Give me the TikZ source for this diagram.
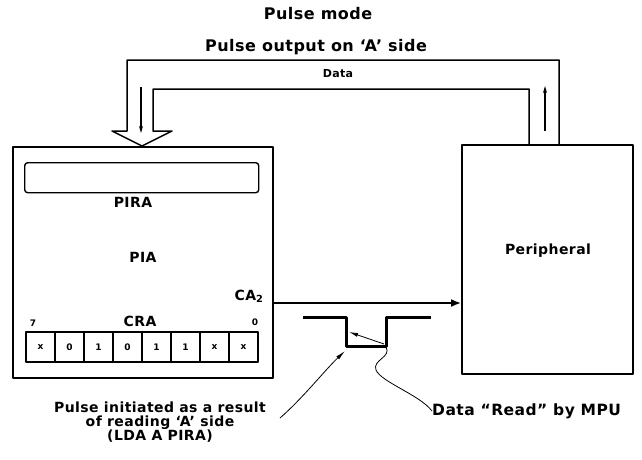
\documentclass[tikz,border=0pt]{standalone}
\usepackage{fontspec}
\setmainfont{DejaVu Sans}[LetterSpace=3]
\usetikzlibrary{arrows.meta}
\begin{document}
\begin{tikzpicture}[x=1pt,y=-1pt,line join=round,
  box/.style={draw,line width=1.7pt,inner sep=0pt,anchor=north west},
  ttl/.style={font=\bfseries\fontsize{16}{18}\selectfont,inner sep=0pt},
  lbl/.style={font=\bfseries\fontsize{14}{14}\selectfont,inner sep=0pt},
  sm/.style={font=\bfseries\fontsize{11}{12}\selectfont,inner sep=0pt},
  tiny/.style={font=\bfseries\fontsize{9}{10}\selectfont,inner sep=0pt},
  cell/.style={draw,line width=1.2pt,minimum width=29pt,minimum height=30pt,inner sep=0pt,font=\bfseries\fontsize{9}{10}\selectfont},
  bus/.style={line width=1.5pt},
  thinarrow/.style={line width=1.2pt,-{Stealth[length=7pt,width=4pt]}},
  lead/.style={line width=0.8pt}]
\useasboundingbox (0,0) rectangle (642,459);
% boxes
\node[box,minimum width=260pt,minimum height=231pt] (pia) at (12,146) {};
\node[box,minimum width=171pt,minimum height=229pt] (per) at (461,144) {};
\node[box,rounded corners=3pt,line width=1.4pt,minimum width=234pt,minimum height=30pt] (pira) at (24,162) {};
% titles
\node[ttl] (mode) at (318,14) {Pulse mode};
\node[ttl] (pout) at (316,47) {Pulse output on ‘A’ side};
\node[sm] (data) at (338,74) {Data};
% data bus
\draw[bus] (529,144) |- (153,89) -- (153,131) -- (172,131) -- (142,146) -- (112,131) -- (127,131) |- (559,60) -- (559,144);
\coordinate (dn1) at (141,87);
\coordinate (dn2) at (141,133);
\coordinate (up1) at (545,131);
\coordinate (up2) at (545,86);
\draw[thinarrow] (dn1) -- (dn2);
\draw[thinarrow] (up1) -- (up2);
% labels in PIA
\node[lbl] (piralbl) at (133,202) {PIRA};
\node[lbl] (pialbl) at (143,257) {PIA};
\node[lbl] (ca2) at (249,296) {CA\textsubscript{2}};
\node[lbl] (cra) at (140,321) {CRA};
\node[tiny] (b7) at (33,323) {7};
\node[tiny] (b0) at (255,322) {0};
\foreach \v [count=\i] in {x,0,1,0,1,1,x,x}
  \node[cell] (c\i) at ({26+29*(\i-0.5)},347) {\v};
\node[lbl] (perlbl) at (548,251) {Peripheral};
% CA2 line
\draw[line width=1.6pt,-{Latex[length=10pt,width=8pt]}] (pia.east |- 0,303) -- (per.west |- 0,303);
% pulse waveform
\draw[line width=3pt] (303,317) -| (346,346) -| (386,317) -- (431,317);
\draw[lead,-{Latex[length=9pt,width=4pt]}] (384,344) -- (349,332);
% texts bottom
\node[lbl,align=center] (init) at (160,422) {Pulse initiated as a result\\of reading ‘A’ side\\(LDA A PIRA)};
\node[lbl,anchor=west,font=\bfseries\fontsize{15.5}{16}\selectfont] (datar) at (432,411) {Data “Read” by MPU};
\draw[lead] (386,347) .. controls (392,357) and (372,360) .. (376,370) .. controls (381,382) and (420,395) .. (datar.west);
\draw[lead,-{Latex[length=10pt,width=4pt]}] (280,418) .. controls (303,398) and (325,370) .. (345,351);
\end{tikzpicture}
\end{document}
